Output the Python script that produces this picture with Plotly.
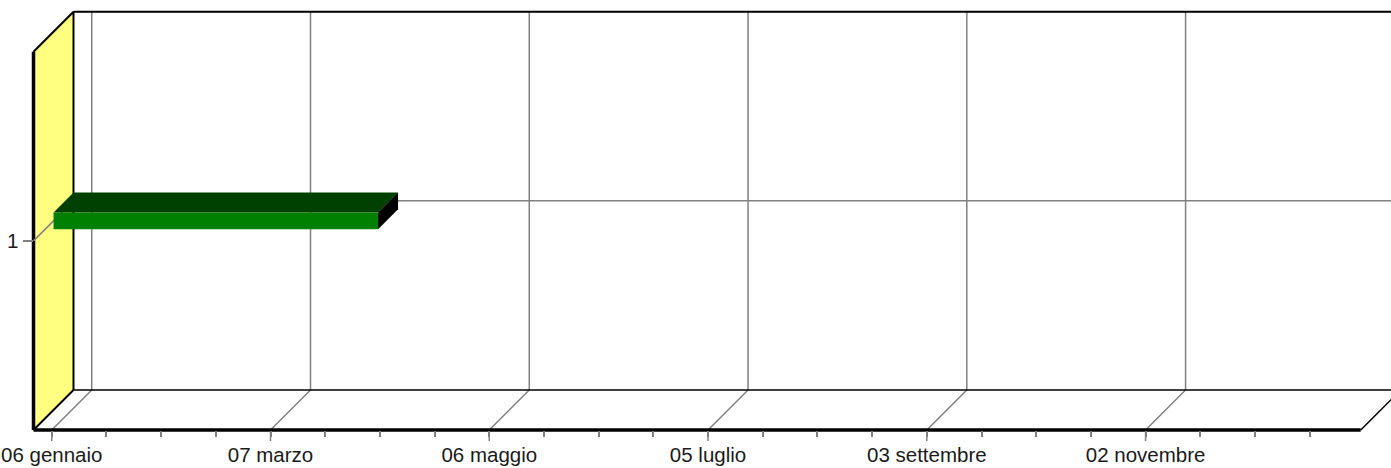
import plotly.graph_objects as go
import pandas as pd

# ---------------- data ----------------
categories = ["1"]
task_start = ["2007-01-06 12:00"]
task_end = ["2007-04-05 12:00"]

tick_dates = ["2007-01-06", "2007-03-07", "2007-05-06", "2007-07-05", "2007-09-03", "2007-11-02"]
tick_labels = ["06 gennaio", "07 marzo", "06 maggio", "05 luglio", "03 settembre", "02 novembre"]
minor_tick_start = "2007-01-06"
minor_tick_step_days = 15
axis_start = "2007-01-01"
axis_end = "2007-12-31"

# ---------------- geometry / style ----------------
W, H = 1391, 468
FRONT_L, FRONT_R, FRONT_T, FRONT_B = 33.5, 1360.7, 51.7, 430.0
DEPTH = 40.0
BAR_PX = 16.6
FONT = "Liberation Sans, Arial, sans-serif"
GRID = "#808080"
YELLOW = "#FFFF80"
LABEL_SIZE = 20.5

d0 = pd.Timestamp(axis_start)
d1 = pd.Timestamp(axis_end)
px_per_day = (FRONT_R - FRONT_L) / ((d1 - d0) / pd.Timedelta(days=1))


def px2date(px):
    return d0 + pd.Timedelta(days=(px - FRONT_L) / px_per_day)


y_lo, y_hi = 0.5, len(categories) + 0.5
px_per_unit = (FRONT_B - FRONT_T) / (y_hi - y_lo)
x_range = [px2date(0), px2date(W)]
y_range = [y_lo - (H - FRONT_B) / px_per_unit, y_hi + FRONT_T / px_per_unit]

ddx = pd.Timedelta(days=DEPTH / px_per_day)
ddy = DEPTH / px_per_unit
bar_h = BAR_PX / px_per_unit

fig = go.Figure()


def poly(xs, ys, fill=None, line_color=None, width=0, closed=True):
    if closed:
        xs = list(xs) + [xs[0]]
        ys = list(ys) + [ys[0]]
    fig.add_trace(go.Scatter(
        x=xs, y=ys, mode="lines",
        fill="toself" if fill else None,
        fillcolor=fill,
        line=dict(color=line_color or "rgba(0,0,0,0)", width=width),
        hoverinfo="skip", showlegend=False, xaxis="x", yaxis="y"))


def seg(xs, ys, color, width):
    fig.add_trace(go.Scatter(
        x=xs, y=ys, mode="lines", line=dict(color=color, width=width),
        hoverinfo="skip", showlegend=False, xaxis="x", yaxis="y", connectgaps=False))


bl = d0 + ddx          # back left
br = d1 + ddx          # back right
bb = y_lo + ddy        # back bottom
bt = y_hi + ddy        # back top

# floor fill
poly([d0, bl, br, d1], [y_lo, bb, bb, y_lo], fill="white")

# gridlines
gx, gy = [], []
for t in tick_dates:
    t = pd.Timestamp(t)
    gx += [t, t + ddx, t + ddx, None]
    gy += [y_lo, bb, bt, None]
for i, c in enumerate(categories):
    yv = i + 1
    gx += [bl, br, None]
    gy += [yv + ddy, yv + ddy, None]
seg(gx, gy, GRID, 1.5)

# major tick marks below the front axis (long ticks)
tick_len_units = 11.0 / px_per_unit
tx, ty = [], []
for t in tick_dates:
    t = pd.Timestamp(t)
    tx += [t, t, None]
    ty += [y_lo, y_lo - tick_len_units, None]
seg(tx, ty, GRID, 1.5)

# floor outline
seg([bl, br], [bb, bb], "black", 1.5)
seg([d1, br], [y_lo, bb], "black", 1.5)
seg([d0, d1], [y_lo, y_lo], "black", 3.5)

# back wall top / right edge
seg([bl, br, br], [bt, bt, bb], "black", 2)

# left wall
poly([d0, d0, bl, bl], [y_lo, y_hi, bt, bb], fill=YELLOW)
seg([d0, bl], [y_lo, bb], "black", 2)
seg([d0, bl, bl], [y_hi, bt, bb], "black", 2)
seg([d0, d0], [y_lo, y_hi], "black", 3.5)

# left wall category gridline
cx, cy = [], []
for i, c in enumerate(categories):
    yv = i + 1
    cx += [d0, bl, None]
    cy += [yv, yv + ddy, None]
seg(cx, cy, GRID, 1.5)

# bars
hx = ddx / 2
hy = ddy / 2
for i, c in enumerate(categories):
    s = pd.Timestamp(task_start[i])
    e = pd.Timestamp(task_end[i])
    yc = i + 1 + hy
    yb, ytop = yc - bar_h / 2, yc + bar_h / 2
    # top face
    poly([s, s + hx, e + hx, e], [ytop, ytop + hy, ytop + hy, ytop], fill="#004000")
    # side face
    poly([e, e, e + hx, e + hx], [yb, ytop, ytop + hy, yb + hy], fill="#000000")
    # front face
    poly([s, e, e, s], [yb, yb, ytop, ytop], fill="#008000")

# invisible trace on labelling axes
fig.add_trace(go.Scatter(x=[d0], y=[1], mode="markers", marker=dict(opacity=0),
                         hoverinfo="skip", showlegend=False, xaxis="x2", yaxis="y2"))

minor_vals = []
t = pd.Timestamp(minor_tick_start)
while t <= d1:
    minor_vals.append(t)
    t = t + pd.Timedelta(days=minor_tick_step_days)

fig.update_layout(
    template="none",
    width=W, height=H,
    margin=dict(l=0, r=0, t=0, b=0, pad=0, autoexpand=False),
    paper_bgcolor="white", plot_bgcolor="rgba(0,0,0,0)",
    showlegend=False,
    font=dict(family=FONT, size=LABEL_SIZE, color="#1a1a1a"),
    xaxis=dict(domain=[0, 1], range=x_range, type="date", visible=False,
               fixedrange=True, automargin=False),
    yaxis=dict(domain=[0, 1], range=y_range, visible=False,
               fixedrange=True, automargin=False),
    xaxis2=dict(domain=[FRONT_L / W, FRONT_R / W], range=[d0, d1], type="date",
                anchor="y2", showgrid=False, zeroline=False, showline=False,
                automargin=False, ticklabeloverflow="allow",
                tickmode="array", tickvals=tick_dates, ticktext=tick_labels,
                ticks="outside", ticklen=6, tickwidth=1.5, tickcolor=GRID,
                tickfont=dict(family=FONT, size=LABEL_SIZE, color="#1a1a1a"),
                minor=dict(tickmode="array", tickvals=minor_vals, ticks="outside",
                           ticklen=6, tickwidth=1.5, tickcolor=GRID, showgrid=False),
                fixedrange=True),
    yaxis2=dict(domain=[(H - FRONT_B) / H, (H - FRONT_T) / H], range=[y_lo, y_hi],
                anchor="x2", showgrid=False, zeroline=False, showline=False,
                automargin=False, ticklabeloverflow="allow",
                tickmode="array", tickvals=list(range(1, len(categories) + 1)),
                ticktext=categories,
                ticks="outside", ticklen=10, tickwidth=1.5, tickcolor=GRID,
                tickfont=dict(family=FONT, size=LABEL_SIZE, color="#1a1a1a"),
                fixedrange=True),
)

fig.write_html("out.html", config={"displayModeBar": False},
               post_script="document.body.style.margin='0';document.body.style.overflow='hidden';")
